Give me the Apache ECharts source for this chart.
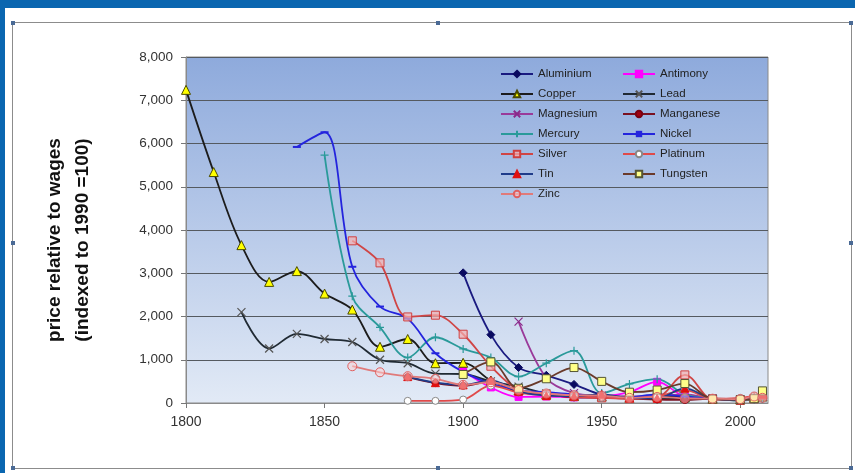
<!DOCTYPE html>
<html><head><meta charset="utf-8">
<script src="https://cdn.jsdelivr.net/npm/echarts@6/dist/echarts.min.js"></script>
<style>
html,body{margin:0;padding:0;width:855px;height:473px;overflow:hidden;background:#0a66b0;}
#white{position:absolute;left:5px;top:8px;right:0;bottom:0;background:#fff;}
#frame{position:absolute;left:12px;top:22px;width:838px;height:445px;border:1.5px solid #8c8c8c;}
.h{position:absolute;width:4px;height:4px;background:#4a6a95;}
#chart{position:absolute;left:0;top:0;width:855px;height:473px;}
</style></head><body>
<div id="white"></div>
<div id="frame"></div>
<div class="h" style="left:11px;top:21px"></div><div class="h" style="left:436px;top:21px"></div><div class="h" style="left:849px;top:21px"></div>
<div class="h" style="left:11px;top:241px"></div><div class="h" style="left:849px;top:241px"></div>
<div class="h" style="left:11px;top:466px"></div><div class="h" style="left:436px;top:466px"></div><div class="h" style="left:849px;top:466px"></div>
<div id="chart"></div>
<script>
// ---- data ----
const xTicks = [1800, 1850, 1900, 1950, 2000];
const yTicks = [0, 1000, 2000, 3000, 4000, 5000, 6000, 7000, 8000];

const aluminiumYears = [1900,1910,1920,1930,1940,1950,1960,1970,1980,1990,2000,2005,2008];
const aluminiumVals  = [3010,1580,820,640,430,190,140,130,150,100,80,90,100];

const antimonyYears = [1900,1910,1920,1930,1940,1950,1960,1970,1980,1990,2000,2005,2008];
const antimonyVals  = [740,360,140,150,130,150,250,490,150,100,80,120,200];

const copperYears = [1800,1810,1820,1830,1840,1850,1860,1870,1880,1890,1900,1910,1920,1930,1940,1950,1960,1970,1980,1990,2000,2005,2008];
const copperVals  = [7240,5340,3650,2800,3050,2530,2160,1300,1480,920,930,520,300,200,160,150,120,150,130,100,80,120,150];

const leadYears = [1820,1830,1840,1850,1860,1870,1880,1890,1900,1910,1920,1930,1940,1950,1960,1970,1980,1990,2000,2005,2008];
const leadVals  = [2100,1260,1600,1480,1410,1000,920,680,670,500,380,220,170,150,110,120,110,100,60,100,150];

const magnesiumYears = [1920,1930,1940,1950,1960,1970,1980,1990,2000,2005,2008];
const magnesiumVals  = [1880,580,230,170,150,160,200,100,80,100,150];

const manganeseYears = [1880,1890,1900,1910,1920,1930,1940,1950,1960,1970,1980,1990,2000,2005,2008];
const manganeseVals  = [600,460,400,500,250,200,130,120,100,80,70,100,90,120,140];

const mercuryYears = [1850,1860,1870,1880,1890,1900,1910,1920,1930,1940,1950,1960,1970,1980,1990,2000,2005,2008];
const mercuryVals  = [5730,2470,1750,1050,1520,1250,1050,610,920,1210,230,440,550,200,100,60,80,100];

const nickelYears = [1840,1850,1860,1870,1880,1890,1900,1910,1920,1930,1940,1950,1960,1970,1980,1990,2000,2005,2008];
const nickelVals  = [5920,6260,3150,2230,1950,1150,720,450,300,250,200,120,130,200,150,100,80,150,130];

const silverYears = [1860,1870,1880,1890,1900,1910,1920,1930,1940,1950,1960,1970,1980,1990,2000,2005,2008];
const silverVals  = [3750,3240,1990,2030,1590,850,300,200,150,120,100,130,650,90,70,100,180];

const platinumYears = [1880,1890,1900,1910,1920,1930,1940,1950,1960,1970,1980,1990,2000,2005,2008];
const platinumVals  = [50,50,80,400,240,180,150,120,110,150,300,100,120,160,200];

const tinYears = [1880,1890,1900,1910,1920,1930,1940,1950,1960,1970,1980,1990,2000,2005,2008];
const tinVals  = [610,470,420,520,270,170,160,200,120,110,340,100,70,130,200];

const tungstenYears = [1900,1910,1920,1930,1940,1950,1960,1970,1980,1990,2000,2005,2008];
const tungstenVals  = [660,950,340,560,820,500,250,300,450,90,80,100,280];

const zincYears = [1860,1870,1880,1890,1900,1910,1920,1930,1940,1950,1960,1970,1980,1990,2000,2005,2008];
const zincVals  = [850,710,620,560,420,480,300,220,180,170,120,140,110,100,90,150,120];

// legend columns
const legendLeft  = ['Aluminium','Copper','Magnesium','Mercury','Silver','Tin','Zinc'];
const legendRight = ['Antimony','Lead','Manganese','Nickel','Platinum','Tungsten'];

// ---- styles ----
const X_PATH = 'path://M0,0L10,10M10,0L0,10';
const PLUS_PATH = 'path://M5,0L5,10M0,5L10,5';

function pairs(ys, vs){ return ys.map((y,i)=>[y, vs[i]]); }

const defs = [
  {name:'Aluminium', ys:aluminiumYears, vs:aluminiumVals, line:'#1a1a80', symbol:'diamond', size:8, fill:'#0a0a60', border:'#0a0a60'},
  {name:'Antimony', ys:antimonyYears, vs:antimonyVals, line:'#ff00ff', symbol:'rect', size:7, fill:'#ff00ff', border:'#ff00ff'},
  {name:'Copper', ys:copperYears, vs:copperVals, line:'#1c1c1c', symbol:'triangle', size:9, fill:'#ffff00', border:'#4a4a00'},
  {name:'Lead', ys:leadYears, vs:leadVals, line:'#202a33', symbol:X_PATH, size:8, fill:'transparent', border:'#555', bw:1.2},
  {name:'Magnesium', ys:magnesiumYears, vs:magnesiumVals, line:'#9a3a9a', symbol:X_PATH, size:8, fill:'transparent', border:'#8a2a8a', bw:1.2},
  {name:'Manganese', ys:manganeseYears, vs:manganeseVals, line:'#7a1020', symbol:'circle', size:7, fill:'#a00010', border:'#7a0010'},
  {name:'Mercury', ys:mercuryYears, vs:mercuryVals, line:'#2a9a9a', symbol:PLUS_PATH, size:8, fill:'transparent', border:'#2a9a9a', bw:1.2},
  {name:'Nickel', ys:nickelYears, vs:nickelVals, line:'#2424dd', symbol:'rect', size:[8,2], fill:'#2424dd', border:'#2424dd', bw:0},
  {name:'Silver', ys:silverYears, vs:silverVals, line:'#d04545', symbol:'rect', size:8, fill:'rgba(245,175,175,0.7)', border:'#d04040'},
  {name:'Platinum', ys:platinumYears, vs:platinumVals, line:'#e04a4a', symbol:'circle', size:7, fill:'#ffffff', border:'#888888'},
  {name:'Tin', ys:tinYears, vs:tinVals, line:'#1f3c8a', symbol:'triangle', size:8, fill:'#e01010', border:'#e01010'},
  {name:'Tungsten', ys:tungstenYears, vs:tungstenVals, line:'#6a3a2a', symbol:'rect', size:8, fill:'#ffff88', border:'#555533'},
  {name:'Zinc', ys:zincYears, vs:zincVals, line:'#e07a7a', symbol:'circle', size:9, fill:'rgba(255,210,210,0.5)', border:'#e06060'}
];

const series = defs.map(d => ({
  name: d.name, type: 'line', smooth: 0.35,
  data: pairs(d.ys, d.vs),
  symbol: d.symbol, symbolSize: d.size, showSymbol: true,
  lineStyle: {color: d.line, width: 1.8},
  itemStyle: {color: d.fill, borderColor: d.border, borderWidth: (d.bw === undefined ? 1 : d.bw)},
  emphasis: {disabled: true}
}));

const FONT = 'Liberation Sans, Arial, sans-serif';
const legendCommon = {orient:'vertical', top:68, padding:0, itemWidth:32, itemHeight:8, itemGap:8,
  selectedMode:false, textStyle:{color:'#222', fontSize:11.5, fontFamily:FONT}};
const chart = echarts.init(document.getElementById('chart'), null, {renderer:'canvas'});
chart.setOption({
  animation: false,
  backgroundColor: 'transparent',
  grid: {left:186, top:57, width:582, height:346, show:true,
    backgroundColor: new echarts.graphic.LinearGradient(0,0,0,1,[{offset:0,color:'#8eaadc'},{offset:1,color:'#e2eaf6'}]),
    borderColor:'#8a8a8a', borderWidth:1},
  xAxis: {type:'value', min:1800, max:2010, interval:50,
    axisLine:{show:true, onZero:false, lineStyle:{color:'#8a8a8a'}},
    axisTick:{show:true, length:5, customValues:xTicks, lineStyle:{color:'#777'}},
    axisLabel:{customValues:xTicks, color:'#333', fontSize:14, margin:12, fontFamily:FONT,
      formatter: v => String(v)},
    splitLine:{show:false}},
  yAxis: {type:'value', min:0, max:8000, interval:1000,
    axisLine:{show:true, lineStyle:{color:'#8a8a8a'}},
    axisTick:{show:true, length:5, lineStyle:{color:'#777'}},
    axisLabel:{color:'#333', fontSize:13.5, margin:13, fontFamily:FONT,
      formatter: v => v.toLocaleString('en-US')},
    splitLine:{show:true, lineStyle:{color:'#555a60', width:1.2}}},
  legend: [
    Object.assign({data: legendLeft, left:500}, legendCommon),
    Object.assign({data: legendRight, left:622}, legendCommon)
  ],
  graphic: [
    {type:'text', x:55, y:240, rotation:Math.PI/2, style:{text:'price relative to wages', fill:'#111',
      font:'bold 19px "Liberation Sans Narrow", "Liberation Sans", Arial, sans-serif', align:'center', verticalAlign:'middle'}},
    {type:'text', x:83, y:240, rotation:Math.PI/2, style:{text:'(indexed to 1990 =100)', fill:'#111',
      font:'bold 19px "Liberation Sans Narrow", "Liberation Sans", Arial, sans-serif', align:'center', verticalAlign:'middle'}}
  ],
  series: series
});
</script></body></html>
